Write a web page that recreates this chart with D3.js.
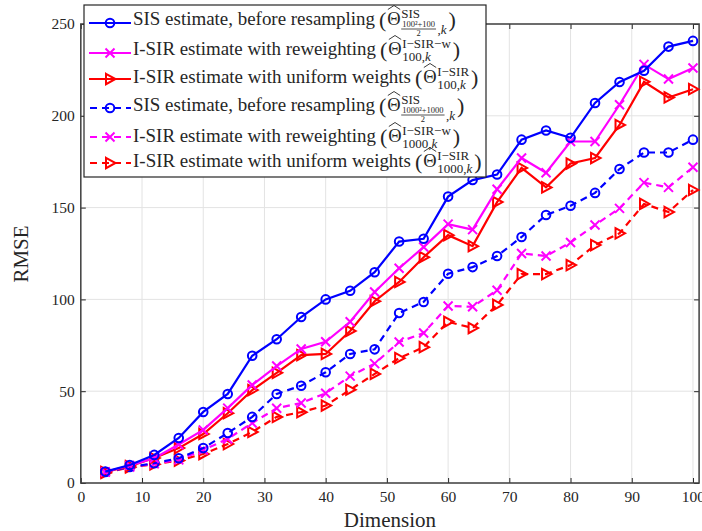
<!DOCTYPE html>
<html>
<head>
<meta charset="utf-8">
<script src="https://cdn.jsdelivr.net/npm/d3@7"></script>
<style>
  body { margin: 0; background: #fff; }
  svg text { font-family: "Liberation Serif", "DejaVu Serif", serif; fill: #262626; }
</style>
</head>
<body>
<div id="chart"></div>
<script>
// dimensions on the x axis
var dims = [4, 8, 12, 16, 20, 24, 28, 32, 36, 40, 44, 48, 52, 56, 60, 64, 68, 72, 76, 80, 84, 88, 92, 96, 100];

// RMSE values, N = 100
var sis100   = [6.2, 9.8, 15.3, 24.5, 38.7, 48.5, 69.3, 78.3, 90.4, 100, 104.7, 114.8, 131.5, 133, 156, 165, 168, 187, 192, 188, 207, 218.4, 224.5, 237.7, 240.8];
var isirW100 = [6, 9.5, 13.5, 21, 28.9, 40.8, 53.4, 63.7, 73, 76.9, 87.8, 104, 117, 128.5, 141, 138, 160, 177, 169, 186, 186, 206, 228, 220, 226];
var isirU100 = [6, 9.2, 13.6, 19, 26.7, 38, 50.6, 60, 69.7, 70.3, 82.8, 99, 109.5, 123, 135, 129, 153, 171.6, 161, 174, 177, 195, 218.5, 210, 214.5];
// RMSE values, N = 1000
var sis1000   = [6, 8.7, 10.8, 13.5, 19, 27.2, 36, 48.5, 53, 60.3, 70.3, 72.8, 92.6, 98.6, 114, 117.6, 123.6, 134, 146, 151, 158, 171, 180, 180, 187];
var isirW1000 = [6, 8.7, 10.5, 12.6, 18, 24, 32.7, 40.7, 43.6, 48.9, 58.2, 65, 76.8, 81.7, 96.4, 96, 105, 125, 123.6, 131, 140.5, 149.6, 163.6, 161, 172];
var isirU1000 = [5.5, 8.5, 10.2, 12.2, 15.8, 21.2, 27.8, 36, 38.6, 42.2, 50.8, 59.4, 68, 74, 87.8, 84.4, 97, 113.8, 113.8, 118.7, 129.6, 136, 152, 147.6, 159.6];

var xTicks = [0, 10, 20, 30, 40, 50, 60, 70, 80, 90, 100];
var yTicks = [0, 50, 100, 150, 200, 250];

var series = [
  { values: sis100,    color: "#0000ff", dash: null,  marker: "circle", label: "SIS estimate, before resampling",     sup: "SIS",       num: "100\u00b2+100",   den: "2" },
  { values: isirW100,  color: "#ff00ff", dash: null,  marker: "cross",  label: "I-SIR estimate with reweighting",     sup: "I\u2212SIR\u2212w", sub: "100" },
  { values: isirU100,  color: "#ff0000", dash: null,  marker: "tri",    label: "I-SIR estimate with uniform weights", sup: "I\u2212SIR",       sub: "100" },
  { values: sis1000,   color: "#0000ff", dash: "7,5", marker: "circle", label: "SIS estimate, before resampling",     sup: "SIS",       num: "1000\u00b2+1000", den: "2" },
  { values: isirW1000, color: "#ff00ff", dash: "7,5", marker: "cross",  label: "I-SIR estimate with reweighting",     sup: "I\u2212SIR\u2212w", sub: "1000" },
  { values: isirU1000, color: "#ff0000", dash: "7,5", marker: "tri",    label: "I-SIR estimate with uniform weights", sup: "I\u2212SIR",       sub: "1000" }
];

var svg = d3.select("#chart").append("svg")
    .attr("width", 702)
    .attr("height", 531);

var x = d3.scaleLinear().domain([0, 101]).range([80.8, 699.1]);
var y = d3.scaleLinear().domain([0, 250]).range([483, 24]);

// grid
svg.selectAll("line.gx")
  .data(xTicks)
  .enter()
  .append("line")
  .attr("x1", function(d) { return x(d); })
  .attr("x2", function(d) { return x(d); })
  .attr("y1", y(0))
  .attr("y2", y(250))
  .attr("stroke", "#e3e3e3")
  .attr("stroke-width", 1);

svg.selectAll("line.gy")
  .data(yTicks)
  .enter()
  .append("line")
  .attr("x1", x(0))
  .attr("x2", x(101))
  .attr("y1", function(d) { return y(d); })
  .attr("y2", function(d) { return y(d); })
  .attr("stroke", "#e3e3e3")
  .attr("stroke-width", 1);

// axes
function styleAxis(g) {
  g.attr("font-family", null);
  g.select(".domain").remove();
  g.selectAll(".tick line").attr("stroke", "#262626").attr("stroke-width", 1);
  g.selectAll(".tick text").attr("font-size", 15.5).attr("fill", "#262626")
    .style("font-family", "'Liberation Serif', serif");
}

svg.append("g")
  .attr("transform", "translate(0," + y(0) + ")")
  .call(d3.axisBottom(x).tickValues(xTicks).tickSizeInner(-5).tickSizeOuter(0).tickPadding(8))
  .call(styleAxis);

svg.append("g")
  .attr("transform", "translate(" + x(0) + ",0)")
  .call(d3.axisLeft(y).tickValues(yTicks).tickSizeInner(-5).tickSizeOuter(0).tickPadding(6))
  .call(styleAxis);

svg.append("g")
  .attr("transform", "translate(0," + y(250) + ")")
  .call(d3.axisTop(x).tickValues(xTicks).tickSizeInner(-5).tickSizeOuter(0).tickFormat(""))
  .call(styleAxis);

svg.append("g")
  .attr("transform", "translate(" + x(101) + ",0)")
  .call(d3.axisRight(y).tickValues(yTicks).tickSizeInner(-5).tickSizeOuter(0).tickFormat(""))
  .call(styleAxis);

svg.append("rect")
  .attr("x", x(0))
  .attr("y", y(250))
  .attr("width", x(101) - x(0))
  .attr("height", y(0) - y(250))
  .attr("fill", "none")
  .attr("stroke", "#404040")
  .attr("stroke-width", 1.5);

// axis labels
svg.append("text")
  .attr("x", (x(0) + x(101)) / 2)
  .attr("y", 527)
  .attr("text-anchor", "middle")
  .attr("font-size", 21)
  .text("Dimension");

svg.append("text")
  .attr("transform", "translate(28,254) rotate(-90)")
  .attr("text-anchor", "middle")
  .attr("font-size", 21)
  .text("RMSE");

// markers
function drawMarker(g, type, cx, cy, color) {
  if (type === "circle") {
    g.append("circle").attr("cx", cx).attr("cy", cy).attr("r", 4.3)
      .attr("fill", "none").attr("stroke", color).attr("stroke-width", 2);
  } else if (type === "cross") {
    g.append("path")
      .attr("d", "M" + (cx - 4.5) + "," + (cy - 4.5) + "L" + (cx + 4.5) + "," + (cy + 4.5) +
                 "M" + (cx - 4.5) + "," + (cy + 4.5) + "L" + (cx + 4.5) + "," + (cy - 4.5))
      .attr("fill", "none").attr("stroke", color).attr("stroke-width", 2);
  } else {
    g.append("path")
      .attr("d", "M" + (cx - 4) + "," + (cy - 5.2) + "L" + (cx + 5.5) + "," + cy + "L" + (cx - 4) + "," + (cy + 5.2) + "Z")
      .attr("fill", "none").attr("stroke", color).attr("stroke-width", 2).attr("stroke-linejoin", "miter");
  }
}

var line = d3.line()
  .x(function(d) { return x(d[0]); })
  .y(function(d) { return y(d[1]); });

series.slice().reverse().forEach(function(s) {
  var pts = dims.map(function(d, i) { return [d, s.values[i]]; });
  var g = svg.append("g");
  g.append("path")
    .attr("d", line(pts))
    .attr("fill", "none")
    .attr("stroke", s.color)
    .attr("stroke-width", 2.2)
    .attr("stroke-dasharray", s.dash);
  pts.forEach(function(p) { drawMarker(g, s.marker, x(p[0]), y(p[1]), s.color); });
});

// legend
var lg = svg.append("g");
lg.append("rect")
  .attr("x", 84).attr("y", 5)
  .attr("width", 402).attr("height", 172)
  .attr("fill", "#fff")
  .attr("stroke", "#262626")
  .attr("stroke-width", 1.2);

var rowY = [23, 53, 79, 108, 137, 163];
var rowBase = [25, 55, 83, 111, 142, 167];
var labelW = [242, 243, 278, 242, 243, 278];

function tw(t) { return t.node().getComputedTextLength(); }

series.forEach(function(s, i) {
  var ly = rowY[i];
  lg.append("line")
    .attr("x1", 89).attr("x2", 131)
    .attr("y1", ly).attr("y2", ly)
    .attr("stroke", s.color).attr("stroke-width", 2.2)
    .attr("stroke-dasharray", s.dash ? "7,5" : null)
    .attr("stroke-dashoffset", s.dash ? -1 : null);
  drawMarker(lg, s.marker, 110, ly, s.color);

  var yb = rowBase[i];
  lg.append("text").attr("x", 133).attr("y", yb).attr("font-size", 18)
    .attr("textLength", labelW[i]).attr("lengthAdjust", "spacingAndGlyphs")
    .text(s.label);
  var xe = 133 + labelW[i] + 4;
  var lp = lg.append("text").attr("x", xe).attr("y", yb + 2).attr("font-size", 22).text("(");
  xe += tw(lp) + 1;
  var th = lg.append("text").attr("x", xe).attr("y", yb).attr("font-size", 18.5).text("\u0398");
  var thw = tw(th);
  lg.append("path")
    .attr("d", "M" + (xe + 0.5) + "," + (yb - 15.5) + "L" + (xe + thw / 2) + "," + (yb - 19.5) + "L" + (xe + thw - 0.5) + "," + (yb - 15.5))
    .attr("fill", "none").attr("stroke", "#262626").attr("stroke-width", 0.9);
  var xs = xe + thw + 0.5;
  var sp = lg.append("text").attr("x", xs).attr("y", yb - 7.5).attr("font-size", 13).text(s.sup);
  var supw = tw(sp);
  var subw;
  if (s.num) {
    var nt = lg.append("text").attr("x", xs + 1).attr("y", yb + 2).attr("font-size", 8.5).text(s.num);
    var nw = tw(nt) + 2;
    lg.append("line").attr("x1", xs).attr("x2", xs + nw).attr("y1", yb + 4).attr("y2", yb + 4)
      .attr("stroke", "#262626").attr("stroke-width", 0.8);
    lg.append("text").attr("x", xs + nw / 2).attr("y", yb + 10.5).attr("font-size", 8.5)
      .attr("text-anchor", "middle").text(s.den);
    var ck = lg.append("text").attr("x", xs + nw + 1.5).attr("y", yb + 9).attr("font-size", 13);
    ck.append("tspan").text(",");
    ck.append("tspan").attr("font-style", "italic").text("k");
    subw = nw + 1.5 + tw(ck);
  } else {
    var sb = lg.append("text").attr("x", xs).attr("y", yb + 6).attr("font-size", 13);
    sb.append("tspan").text(s.sub + ",");
    sb.append("tspan").attr("font-style", "italic").text("k");
    subw = tw(sb);
  }
  var xr = xs + Math.max(supw, subw) + 2;
  lg.append("text").attr("x", xr).attr("y", yb + 2).attr("font-size", 22).text(")");
});
</script>
</body>
</html>
